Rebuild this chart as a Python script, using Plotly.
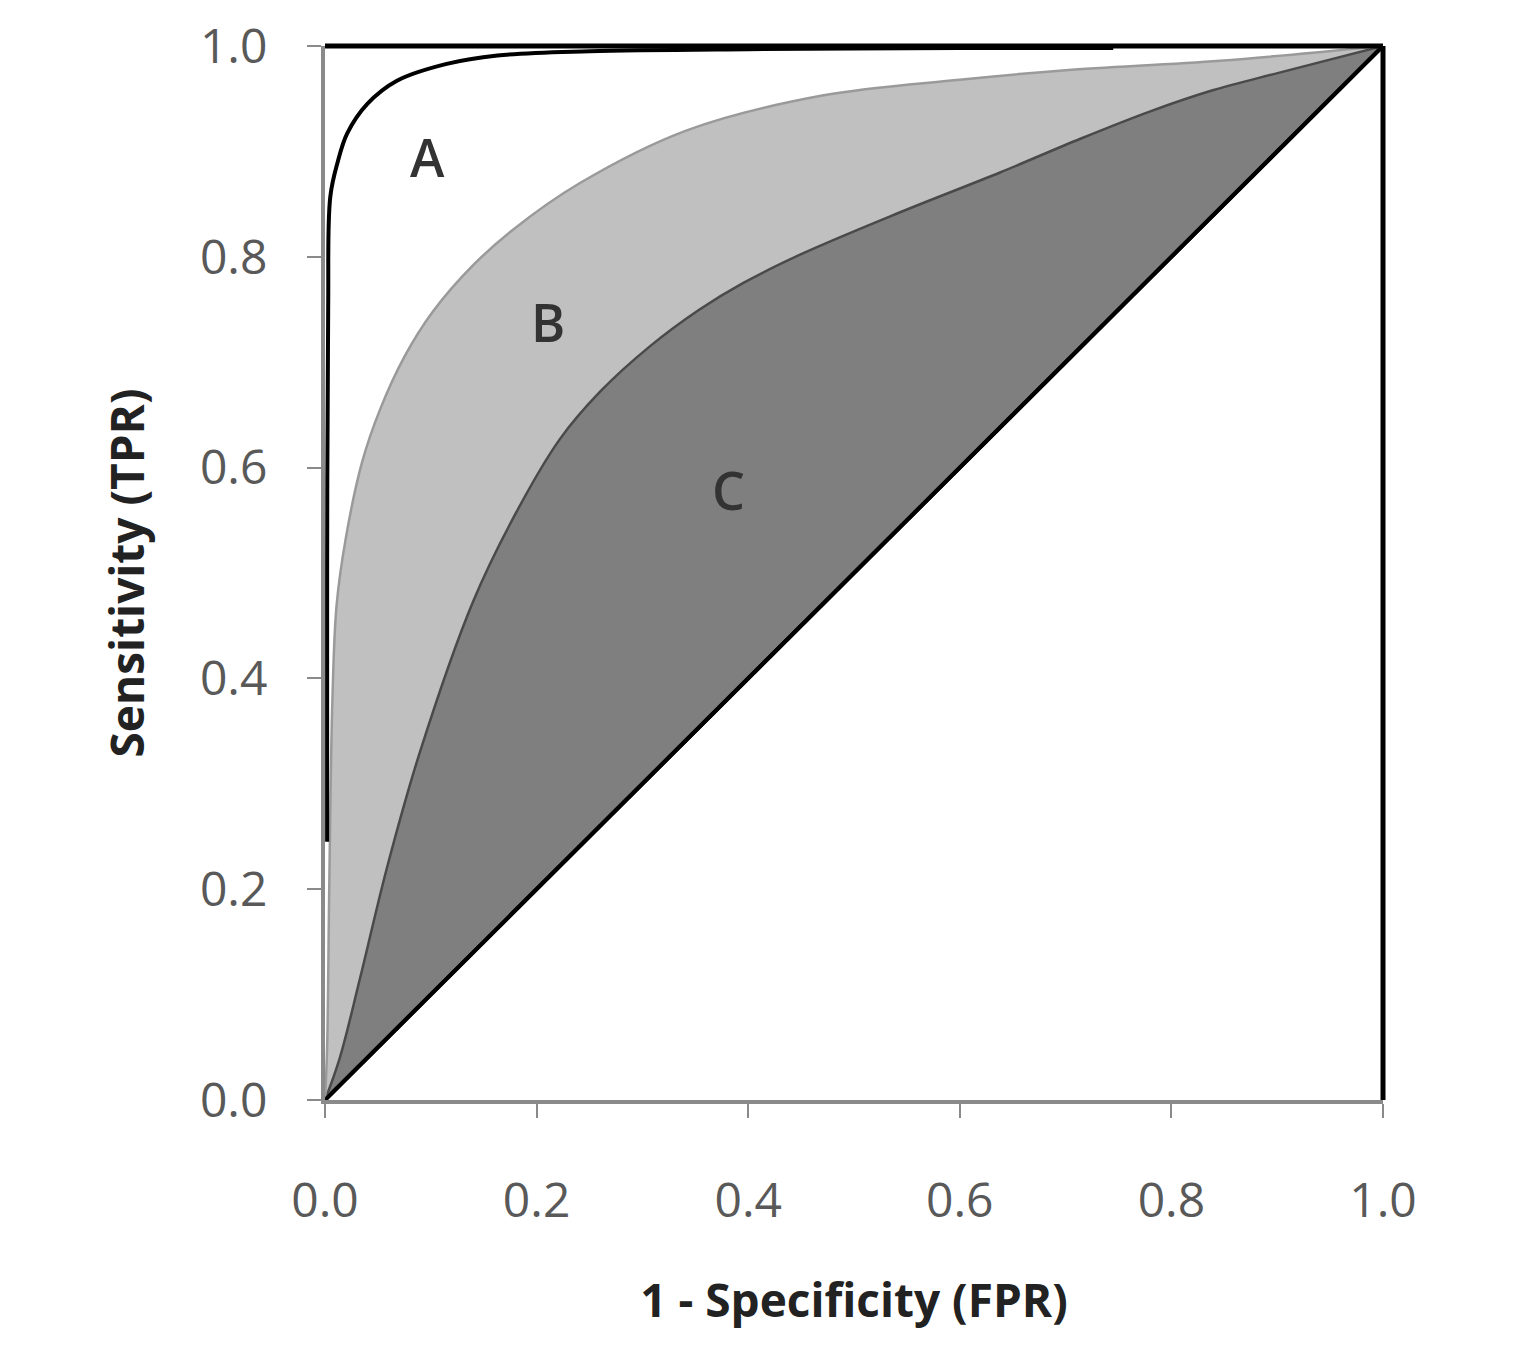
import plotly.graph_objects as go

# Diagonal (random classifier)
diag_fpr = [0.0, 1.0]
diag_tpr = [0.0, 1.0]

# Curve C (dark gray area)
c_fpr = [0.0, 0.014, 0.033, 0.059, 0.09, 0.14, 0.181, 0.222, 0.26, 0.307, 0.354, 0.395, 0.449, 0.543, 0.638, 0.714, 0.78, 0.839, 0.903, 1.0]
c_tpr = [0.0, 0.04, 0.115, 0.222, 0.331, 0.473, 0.558, 0.627, 0.672, 0.715, 0.750, 0.775, 0.802, 0.842, 0.880, 0.912, 0.938, 0.958, 0.975, 1.0]

# Curve B (light gray area)
b_fpr = [0.0, 0.002, 0.004, 0.007, 0.011, 0.02, 0.035, 0.052, 0.075, 0.102, 0.14, 0.178, 0.241, 0.342, 0.47, 0.60, 0.70, 0.846, 1.0]
b_tpr = [0.0, 0.05, 0.2, 0.38, 0.47, 0.535, 0.605, 0.655, 0.705, 0.748, 0.792, 0.826, 0.870, 0.92, 0.953, 0.968, 0.977, 0.986, 1.0]

# Curve A (near-perfect classifier)
a_fpr = [0.002, 0.002, 0.003, 0.005, 0.012, 0.021, 0.04, 0.068, 0.115, 0.163, 0.25, 0.4, 0.6, 0.745]
a_tpr = [0.245, 0.5, 0.75, 0.857, 0.89, 0.917, 0.945, 0.967, 0.983, 0.991, 0.995, 0.997, 0.998, 0.998]

labels = ["A", "B", "C"]
label_fpr = [0.097, 0.211, 0.381]
label_tpr = [0.895, 0.739, 0.579]

tick_vals = [0.0, 0.2, 0.4, 0.6, 0.8, 1.0]
tick_text = ["0.0", "0.2", "0.4", "0.6", "0.8", "1.0"]

FONT = "Open Sans"

fig = go.Figure()
fig.add_trace(go.Scatter(x=diag_fpr, y=diag_tpr, mode="lines",
                         line=dict(color="black", width=4), showlegend=False, hoverinfo="skip"))
fig.add_trace(go.Scatter(x=c_fpr, y=c_tpr, mode="lines", fill="tonexty",
                         fillcolor="#7f7f7f", line=dict(color="#4a4a4a", width=2.5, shape="spline", smoothing=1.0),
                         showlegend=False))
fig.add_trace(go.Scatter(x=b_fpr, y=b_tpr, mode="lines", fill="tonexty",
                         fillcolor="#c0c0c0", line=dict(color="#9a9a9a", width=2.5, shape="spline", smoothing=1.0),
                         showlegend=False))
fig.add_trace(go.Scatter(x=diag_fpr, y=diag_tpr, mode="lines",
                         line=dict(color="black", width=4), showlegend=False, hoverinfo="skip"))
fig.add_trace(go.Scatter(x=a_fpr, y=a_tpr, mode="lines",
                         line=dict(color="black", width=4, shape="spline"), showlegend=False))

for t, x, y in zip(labels, label_fpr, label_tpr):
    fig.add_annotation(x=x, y=y, text=t, showarrow=False,
                       font=dict(family=FONT, size=52, color="#333333", weight=600))

# plot-area border on top and right (black)
fig.add_shape(type="line", xref="x domain", yref="y domain", x0=0, x1=1, y0=1, y1=1,
              line=dict(color="black", width=5))
fig.add_shape(type="line", xref="x domain", yref="y domain", x0=1, x1=1, y0=0, y1=1,
              line=dict(color="black", width=5))

axis_common = dict(range=[0, 1], tickvals=tick_vals, ticktext=tick_text,
                   showgrid=False, zeroline=False, showline=True, linecolor="#8a8a8a",
                   linewidth=4, ticks="outside", ticklen=14, tickwidth=2, tickcolor="#8a8a8a",
                   tickfont=dict(family=FONT, size=48, color="#595959"))

fig.update_layout(
    width=1526, height=1358,
    margin=dict(l=325, r=143, t=42, b=258),
    paper_bgcolor="white", plot_bgcolor="white",
    xaxis=dict(**axis_common, ticklabelstandoff=41,
               title=dict(text="1 - Specificity (FPR)", standoff=56,
                          font=dict(family=FONT, size=46, color="#222222", weight=700))),
    yaxis=dict(**axis_common, ticklabelstandoff=30,
               title=dict(text="Sensitivity (TPR)", standoff=42,
                          font=dict(family=FONT, size=46, color="#222222", weight=700))),
)

fig.write_html("out.html")
